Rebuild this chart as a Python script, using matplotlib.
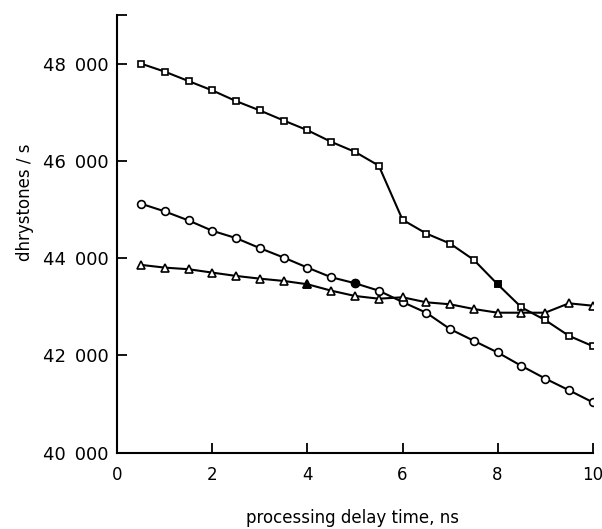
import matplotlib
matplotlib.use("Agg")
import matplotlib.pyplot as plt
from matplotlib.ticker import FixedLocator

# ---- data ----
delay_ns = [0.5, 1.0, 1.5, 2.0, 2.5, 3.0, 3.5, 4.0, 4.5, 5.0,
            5.5, 6.0, 6.5, 7.0, 7.5, 8.0, 8.5, 9.0, 9.5, 10.0]

squares = [48000, 47835, 47641, 47449, 47229, 47037, 46831, 46631, 46392, 46186,
           45903, 44790, 44507, 44301, 43965, 43464, 42990, 42728, 42404, 42192]
circles = [45120, 44961, 44775, 44563, 44412, 44206, 44013, 43806, 43608, 43485,
           43332, 43099, 42878, 42542, 42301, 42062, 41786, 41526, 41285, 41038]
triangles = [43862, 43806, 43773, 43703, 43635, 43579, 43532, 43464, 43332, 43223,
             43167, 43196, 43093, 43052, 42955, 42879, 42879, 42879, 43072, 43023]

# x position of the one filled marker in each series
filled_square_x = 8.0
filled_circle_x = 5.0
filled_triangle_x = 4.0

x_ticks = [0, 2, 4, 6, 8, 10]
x_tick_labels = ["0", "2", "4", "6", "8", "10"]
y_ticks = [40000, 42000, 44000, 46000, 48000]
y_tick_labels = ["40\u2002000", "42\u2002000", "44\u2002000", "46\u2002000", "48\u2002000"]

x_label = "processing delay time, ns"
y_label = "dhrystones / s"

# ---- figure ----
plt.rcParams['font.family'] = ['DejaVu Sans']
fig = plt.figure(figsize=(6.02, 5.29), dpi=100)
ax = fig.add_axes([0.1949, 0.1442, 0.7896, 0.8274])

series = [
    (squares, 's', 4.6, filled_square_x),
    (circles, 'o', 5.6, filled_circle_x),
    (triangles, '^', 6.2, filled_triangle_x),
]
for vals, mk, ms, fx in series:
    ax.plot(delay_ns, vals, color='black', lw=1.5, marker=mk, ms=ms,
            mfc='white', mec='black', mew=1.2, zorder=3)
    i = delay_ns.index(fx)
    ax.plot([delay_ns[i]], [vals[i]], linestyle='none', marker=mk, ms=ms,
            mfc='black', mec='black', mew=1.2, zorder=4)

ax.set_xlim(0, 10)
ax.set_ylim(40000, 49000)
ax.set_xticks(x_ticks)
ax.set_xticklabels(x_tick_labels, fontsize=12)
ax.set_yticks(y_ticks)
ax.set_yticklabels(y_tick_labels, fontsize=13)
ax.yaxis.set_minor_locator(FixedLocator([49000]))

for s in ['top', 'right']:
    ax.spines[s].set_visible(False)
for s in ['left', 'bottom']:
    ax.spines[s].set_linewidth(1.5)

ax.tick_params(axis='both', which='both', direction='in', width=1.3, length=7)
ax.tick_params(axis='x', pad=9.5)
ax.tick_params(axis='y', pad=6)

ax.set_xlabel(x_label, fontsize=12)
ax.set_ylabel(y_label, fontsize=12)
ax.xaxis.set_label_coords(0.494, -0.129)
ax.yaxis.set_label_coords(-0.175, 0.573)

fig.savefig("out.png", dpi=100, facecolor='white')
